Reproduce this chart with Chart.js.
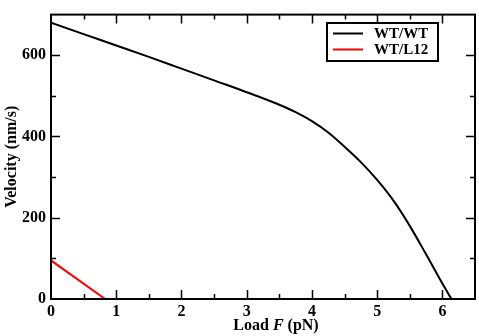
<!DOCTYPE html>
<html>
<head>
<meta charset="utf-8">
<script src="https://cdn.jsdelivr.net/npm/chart.js@4/dist/chart.umd.min.js"></script>
<style>
html,body{margin:0;padding:0;background:#fff;}
#wrap{width:479px;height:336px;}
</style>
</head>
<body>
<div id="wrap"><canvas id="c" width="479" height="336"></canvas></div>
<script>
// Data
const loadWT = [0, 0.5, 1, 1.5, 2, 2.5, 3, 3.5, 3.75, 4, 4.25, 4.5, 4.75, 5, 5.25, 5.5, 5.75, 6, 6.14];
const velWT  = [680, 652, 624, 596, 567, 538, 509, 478, 460, 438, 410, 375, 337, 293, 242, 180, 110, 38, 0];
const loadL12 = [0, 0.83];
const velL12  = [95, 0];
const seriesLabels = ['WT/WT', 'WT/L12'];
const seriesColors = ['#000000', '#ff0000'];
const xTickValues = [0, 1, 2, 3, 4, 5, 6];
const yTickValues = [0, 200, 400, 600];

const FONT = '"Liberation Serif", "Times New Roman", serif';

function pts(xs, ys){ return xs.map((x,i)=>({x:x, y:ys[i]})); }

const framePlugin = {
  id: 'frame',
  afterDatasetsDraw(chart){
    const ctx = chart.ctx, a = chart.chartArea;
    const xs = chart.scales.x, ys = chart.scales.y;
    ctx.save();
    ctx.strokeStyle = '#000';
    ctx.lineWidth = 2;
    ctx.strokeRect(a.left, a.top, a.right - a.left, a.bottom - a.top);
    ctx.lineWidth = 1.5;
    ctx.beginPath();
    for (let v = 0; v <= xs.max + 1e-9; v += 0.5) {
      const px = Math.round(xs.getPixelForValue(v)) + 0.5;
      if (px <= a.left + 1 || px >= a.right - 1) continue;
      const len = (Math.abs(v - Math.round(v)) < 1e-9) ? 9 : 5;
      ctx.moveTo(px, a.bottom); ctx.lineTo(px, a.bottom - len);
      ctx.moveTo(px, a.top); ctx.lineTo(px, a.top + len);
    }
    for (let v = 0; v <= ys.max + 1e-9; v += 100) {
      const py = Math.round(ys.getPixelForValue(v)) + 0.5;
      if (py <= a.top + 1 || py >= a.bottom - 1) continue;
      const len = (v % 200 === 0) ? 9 : 5;
      ctx.moveTo(a.left, py); ctx.lineTo(a.left + len, py);
      ctx.moveTo(a.right, py); ctx.lineTo(a.right - len, py);
    }
    ctx.stroke();

    // axis titles
    ctx.fillStyle = '#000';
    ctx.textBaseline = 'alphabetic';
    const f1 = 'bold 16px ' + FONT, f2 = 'bold italic 16px ' + FONT;
    const parts = [['Load ', f1], ['F', f2], [' (pN)', f1]];
    let w = 0;
    parts.forEach(p => { ctx.font = p[1]; w += ctx.measureText(p[0]).width; });
    let x = 276 - w / 2;
    parts.forEach(p => { ctx.font = p[1]; ctx.textAlign = 'left'; ctx.fillText(p[0], x, 330); x += ctx.measureText(p[0]).width; });

    ctx.save();
    ctx.translate(16, (a.top + a.bottom) / 2);
    ctx.rotate(-Math.PI / 2);
    ctx.font = f1; ctx.textAlign = 'center';
    ctx.fillText('Velocity (nm/s)', 0, 0);
    ctx.restore();

    // legend
    const bx = 327, by = 23, bw = 111, bh = 38;
    ctx.fillStyle = '#fff';
    ctx.fillRect(bx, by, bw, bh);
    ctx.strokeStyle = '#000'; ctx.lineWidth = 2;
    ctx.strokeRect(bx, by, bw, bh);
    chart.data.datasets.forEach((ds, i) => {
      const cy = 33.5 + i * 16;
      ctx.strokeStyle = ds.borderColor; ctx.lineWidth = 2;
      ctx.beginPath(); ctx.moveTo(333, cy); ctx.lineTo(363, cy); ctx.stroke();
      ctx.fillStyle = '#000'; ctx.font = 'bold 15px ' + FONT;
      ctx.textAlign = 'left'; ctx.textBaseline = 'middle';
      ctx.fillText(ds.label, 374, cy + 1);
    });
    ctx.restore();
  }
};

new Chart(document.getElementById('c'), {
  type: 'line',
  data: {
    datasets: [
      { label: seriesLabels[0], data: pts(loadWT, velWT), borderColor: seriesColors[0], borderWidth: 2, pointRadius: 0, fill: false, cubicInterpolationMode: 'monotone' },
      { label: seriesLabels[1], data: pts(loadL12, velL12), borderColor: seriesColors[1], borderWidth: 2, pointRadius: 0, fill: false }
    ]
  },
  options: {
    responsive: false,
    animation: false,
    devicePixelRatio: 1,
    layout: { padding: { top: 3, right: 4, left: 0, bottom: 0 } },
    plugins: { legend: { display: false }, tooltip: { enabled: false } },
    scales: {
      x: {
        type: 'linear', min: 0, max: 6.5,
        grid: { display: false, drawTicks: false },
        border: { display: false },
        afterBuildTicks: s => { s.ticks = xTickValues.map(v => ({ value: v })); },
        afterFit: s => { s.height = 37; },
        ticks: { padding: 3, color: '#000', font: { family: FONT, size: 16, weight: 'bold' }, maxRotation: 0, callback: v => String(v) }
      },
      y: {
        type: 'linear', min: 0, max: 700,
        grid: { display: false, drawTicks: false },
        border: { display: false },
        afterBuildTicks: s => { s.ticks = yTickValues.map(v => ({ value: v })); },
        afterFit: s => { s.width = 51; },
        ticks: { padding: 5, color: '#000', font: { family: FONT, size: 16, weight: 'bold' }, callback: v => String(v) }
      }
    }
  },
  plugins: [framePlugin]
});
</script>
</body>
</html>
